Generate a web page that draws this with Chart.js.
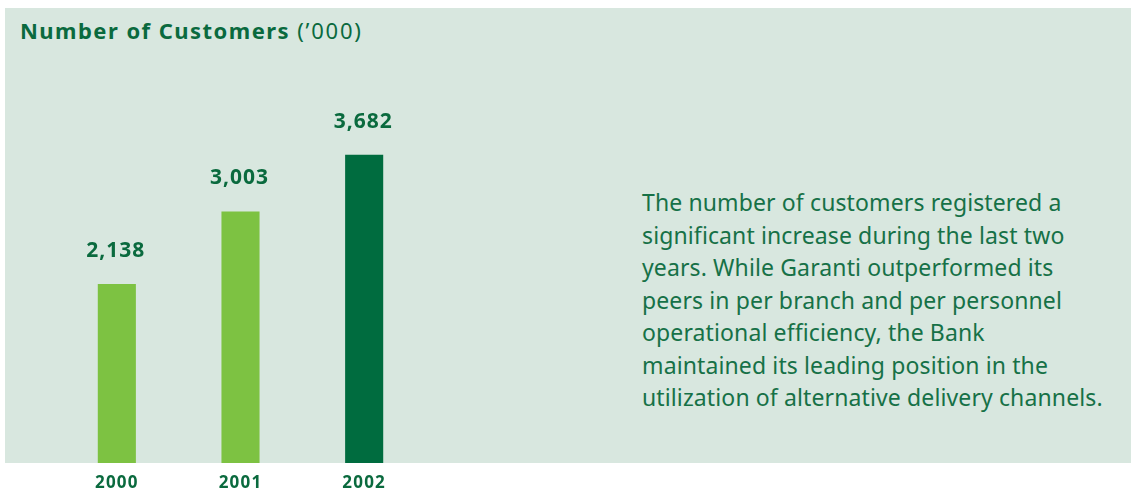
<!DOCTYPE html>
<html>
<head>
<meta charset="utf-8">
<script src="https://cdn.jsdelivr.net/npm/chart.js@4.4.0/dist/chart.umd.min.js"></script>
<style>
  html, body { margin: 0; padding: 0; background: #fff; }
  body { width: 1131px; height: 488px; position: relative; overflow: hidden; font-family: "Noto Sans", sans-serif; }
  #panel { position: absolute; left: 5px; top: 8px; width: 1126px; height: 455px; background: #d8e7df; }
  #title { position: absolute; left: 20px; top: 15px; font-size: 22px; letter-spacing: 1.45px; color: #0a6a3e; white-space: nowrap; }
  #title b { font-weight: 700; }
  #title span { letter-spacing: 1.8px; }
  #note { position: absolute; left: 642px; top: 186px; font-size: 23px; letter-spacing: 0.12px; line-height: 32.5px; color: #167147; white-space: nowrap; }
  #wrap { position: absolute; left: 0; top: 0; width: 1131px; height: 488px; }
</style>
</head>
<body>
<div id="panel"></div>
<div id="title"><b>Number of Customers</b> <span>(’000)</span></div>
<div id="note">The number of customers registered a<br>significant increase during the last two<br>years. While Garanti outperformed its<br>peers in per branch and per personnel<br>operational efficiency, the Bank<br>maintained its leading position in the<br>utilization of alternative delivery channels.</div>
<div id="wrap"><canvas id="myChart"></canvas></div>
<script>
const years = ['2000', '2001', '2002'];
const customers = [2138, 3003, 3682];
const barColors = ['#7dc242', '#7dc242', '#006c3f'];

// wider letter spacing for all canvas text
const spacing = {
  id: 'spacing',
  beforeDraw(chart) { chart.ctx.letterSpacing = '1.2px'; }
};

// value labels above bars
const valueLabels = {
  id: 'valueLabels',
  afterDatasetsDraw(chart) {
    const ctx = chart.ctx;
    const meta = chart.getDatasetMeta(0);
    ctx.save();
    ctx.letterSpacing = '1px';
    ctx.font = 'bold 21px "Noto Sans", sans-serif';
    ctx.fillStyle = '#0a6a3e';
    ctx.textAlign = 'center';
    ctx.textBaseline = 'middle';
    meta.data.forEach((bar, i) => {
      ctx.fillText(customers[i].toLocaleString('en-US'), bar.x - 1, bar.y - 33);
    });
    ctx.restore();
  }
};

new Chart(document.getElementById('myChart'), {
  type: 'bar',
  data: {
    labels: years,
    datasets: [{
      data: customers,
      backgroundColor: barColors,
      borderWidth: 0,
      barPercentage: 0.308,
      categoryPercentage: 1.0,
    }],
  },
  options: {
    responsive: true,
    maintainAspectRatio: false,
    animation: false,
    layout: { padding: { left: 55, right: 705, top: 128, bottom: 0 } },
    plugins: { legend: { display: false }, tooltip: { enabled: false } },
    scales: {
      x: {
        grid: { display: false },
        border: { display: false },
        ticks: {
          color: '#0a6a3e',
          padding: 2,
          font: { family: '"Noto Sans", sans-serif', size: 17, weight: 'bold' },
        },
        afterFit(scale) { scale.height = 25; },
      },
      y: {
        display: false,
        min: 0,
        max: 4000,
      },
    },
  },
  plugins: [spacing, valueLabels],
});
</script>
</body>
</html>
